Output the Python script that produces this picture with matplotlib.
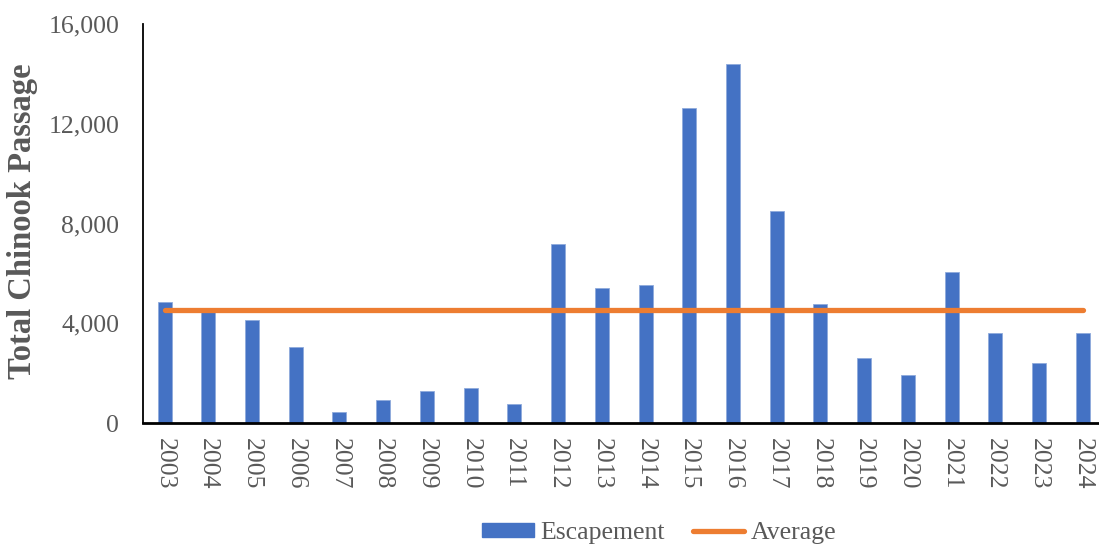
import matplotlib
matplotlib.use("Agg")
import matplotlib.pyplot as plt
from matplotlib.ticker import FuncFormatter
from matplotlib.lines import Line2D
from matplotlib.patches import Patch
import numpy as np

# Annual Chinook escapement counts
years = ["2003", "2004", "2005", "2006", "2007", "2008", "2009", "2010", "2011",
         "2012", "2013", "2014", "2015", "2016", "2017", "2018", "2019", "2020",
         "2021", "2022", "2023", "2024"]
escapement = [4840, 4450, 4140, 3035, 430, 910, 1280, 1390, 750,
              7165, 5410, 5520, 12630, 14380, 8490, 4770, 2605, 1910,
              6040, 3610, 2395, 3610]
average = float(np.mean(escapement))

y_ticks = [0, 4000, 8000, 12000, 16000]

BLUE = "#4472C4"
ORANGE = "#ED7D31"
GRAY = "#595959"
FONT = ["Liberation Serif", "DejaVu Serif"]

plt.rcParams["font.family"] = FONT

W, H = 1099, 547
fig = plt.figure(figsize=(W / 100, H / 100), dpi=100)
left_px, right_px, top_px, bottom_px = 142.7, 1104.6, 24.0, 423.0
ax = fig.add_axes([left_px / W, 1 - bottom_px / H,
                   (right_px - left_px) / W, (bottom_px - top_px) / H])

x = np.arange(len(years))
ax.bar(x, escapement, width=0.32, color=BLUE, edgecolor="#8FAADC",
       linewidth=0.6, zorder=2)
ax.plot([x[0], x[-1]], [average, average], color=ORANGE, linewidth=3.8,
        solid_capstyle="round", zorder=3)

ax.set_xlim(-0.5, len(years) - 0.5)
ax.set_ylim(0, 16000)
ax.set_yticks(y_ticks)
ax.yaxis.set_major_formatter(FuncFormatter(lambda v, p: f"{int(v):,}"))
ax.set_xticks(x)
ax.set_xticklabels(years, rotation=270)

ax.tick_params(axis="y", length=0, pad=17, labelsize=18.5, labelcolor=GRAY)
ax.tick_params(axis="x", length=0, pad=11, labelsize=18.5, labelcolor=GRAY)

for side in ("top", "right"):
    ax.spines[side].set_visible(False)
ax.spines["left"].set_linewidth(1.3)
ax.spines["bottom"].set_linewidth(2.0)
ax.spines["left"].set_color("black")
ax.spines["bottom"].set_color("black")

fig.text(22.5 / W, 1 - 221.5 / H, "Total Chinook Passage", rotation=90,
         ha="center", va="center", fontsize=23.5, fontweight="bold", color=GRAY)

handles = [Patch(facecolor=BLUE, edgecolor=BLUE),
           Line2D([0], [0], color=ORANGE, linewidth=3.8, solid_capstyle="round")]
fig.legend(handles, ["Escapement", "Average"], loc="center",
           bbox_to_anchor=(659.5 / W, 1 - 533 / H), ncol=2, frameon=False,
           fontsize=18.5, labelcolor=GRAY, handlelength=2.0, handleheight=0.5,
           handletextpad=0.25, columnspacing=1.1, borderpad=0)

fig.savefig("out.png", dpi=100)
